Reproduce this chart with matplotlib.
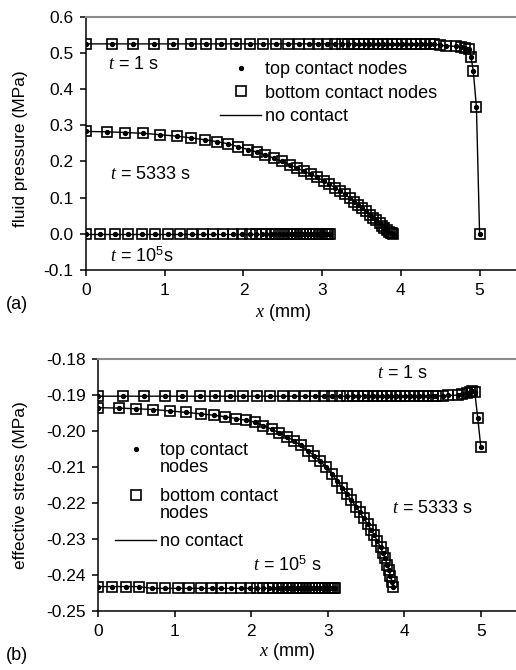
import numpy as np
import matplotlib
matplotlib.use("Agg")
import matplotlib.pyplot as plt
from matplotlib.legend_handler import HandlerLine2D

plt.rcParams['font.family'] = ['Liberation Sans', 'DejaVu Sans']
plt.rcParams['font.size'] = 13
plt.rcParams['mathtext.fontset'] = 'custom'
plt.rcParams['mathtext.rm'] = 'Liberation Sans'
plt.rcParams['mathtext.it'] = 'Liberation Serif:italic'

# node positions along the contact (mm)
x_t1 = [0, 0.33, 0.6, 0.87, 1.1, 1.33, 1.53, 1.72, 1.9, 2.08, 2.25, 2.41, 2.56, 2.7,
        2.83, 2.95, 3.06, 3.16, 3.25, 3.33, 3.4, 3.47, 3.53, 3.59, 3.65, 3.71, 3.77,
        3.83, 3.89, 3.95, 4.01, 4.07, 4.13, 4.19, 4.25, 4.31, 4.37, 4.42,
        4.5, 4.57, 4.7, 4.76, 4.82, 4.86, 4.89, 4.92, 4.96, 5.0]
x_p5333 = [0, 0.27, 0.5, 0.72, 0.94, 1.15, 1.34, 1.51, 1.66, 1.8, 1.93, 2.06, 2.17,
           2.28, 2.39, 2.49, 2.59, 2.68, 2.77, 2.86, 2.94, 3.02, 3.09, 3.16, 3.23,
           3.29, 3.35, 3.41, 3.46, 3.51, 3.56, 3.61, 3.65, 3.69, 3.73, 3.76, 3.79,
           3.82, 3.85, 3.87, 3.89, 3.9]
x_s5333 = [0, 0.27, 0.5, 0.72, 0.94, 1.15, 1.34, 1.51, 1.66, 1.8, 1.93, 2.05, 2.16,
           2.27, 2.37, 2.47, 2.56, 2.65, 2.74, 2.82, 2.9, 2.98, 3.05, 3.12, 3.19,
           3.25, 3.31, 3.37, 3.42, 3.47, 3.52, 3.57, 3.61, 3.65, 3.69, 3.72, 3.75,
           3.78, 3.8, 3.82, 3.84, 3.85]
x_t1e5 = [0, 0.18, 0.37, 0.53, 0.71, 0.88, 1.04, 1.19, 1.35, 1.49, 1.61, 1.74, 1.87,
          1.98, 2.08, 2.16, 2.23, 2.29, 2.35, 2.4, 2.45, 2.5, 2.55, 2.6, 2.64, 2.68,
          2.72, 2.76, 2.8, 2.84, 2.88, 2.92, 2.96, 3.0, 3.03, 3.06, 3.08, 3.1]

# fluid pressure (MPa)
p_t1 = [0.525] * 38 + [0.521, 0.52, 0.518, 0.517, 0.515, 0.51, 0.49, 0.45, 0.35, 0.0]
p_5333 = [0.283, 0.282, 0.280, 0.278, 0.274, 0.270, 0.265, 0.260, 0.255, 0.249,
          0.241, 0.233, 0.226, 0.218, 0.209, 0.200, 0.191, 0.182, 0.173, 0.164,
          0.156, 0.146, 0.137, 0.128, 0.118, 0.109, 0.099, 0.089, 0.080, 0.071,
          0.062, 0.053, 0.045, 0.037, 0.029, 0.023, 0.017, 0.011, 0.006, 0.003,
          0.001, 0.0]
p_t1e5 = [0.0] * 38

# effective stress (MPa)
s_t1 = [-0.1903] * 38 + [-0.1902, -0.1901, -0.19, -0.1898, -0.1895, -0.189,
                         -0.1888, -0.189, -0.1964, -0.2044]
s_5333 = [-0.1935, -0.1936, -0.1938, -0.1940, -0.1944, -0.1948, -0.1952, -0.1956,
          -0.1960, -0.1965, -0.1970, -0.1975, -0.1985, -0.1995, -0.2005, -0.2016,
          -0.2027, -0.2040, -0.2054, -0.2068, -0.2083, -0.2100, -0.2118, -0.2138,
          -0.2158, -0.2175, -0.2192, -0.2210, -0.2226, -0.2242, -0.2258, -0.2275,
          -0.2290, -0.2306, -0.2323, -0.2338, -0.2354, -0.2372, -0.2386, -0.2402,
          -0.2420, -0.2433]
s_t1e5 = [-0.2432] * 4 + [-0.2437] * 34


class LiftedHandler(HandlerLine2D):
    # puts the legend symbol on the first line of a two-line label
    def __init__(self, dy, **kw):
        super().__init__(**kw)
        self.dy = dy

    def create_artists(self, *args, **kw):
        arts = super().create_artists(*args, **kw)
        for a in arts:
            a.set_ydata(np.asarray(a.get_ydata()) + self.dy)
        return arts


fig = plt.figure(figsize=(5.16, 6.70), dpi=100)
ax1 = fig.add_axes([0.1667, 0.597, 0.839, 0.378])
ax2 = fig.add_axes([0.19, 0.088, 0.816, 0.376])


def draw(ax, x, y):
    l, = ax.plot(x, y, '-', color='black', lw=1.0, zorder=2)
    sq, = ax.plot(x, y, 's', ms=7.5, mfc='none', mec='black', mew=1.2, zorder=3)
    dot, = ax.plot(x, y, 'o', ms=2.8, color='black', zorder=4)
    return dot, sq, l


def style(ax):
    ax.set_xlim(0, 5.5)
    ax.set_xticks([0, 1, 2, 3, 4, 5])
    ax.spines['right'].set_visible(False)
    ax.spines['top'].set_color('#8c8c8c')
    ax.spines['top'].set_linewidth(1.5)
    ax.spines['left'].set_linewidth(1.1)
    ax.spines['bottom'].set_linewidth(1.1)
    ax.tick_params(direction='out', length=4, width=1.1, top=False, right=False,
                   labelsize=12.5, pad=5)


# (a) fluid pressure
h = draw(ax1, x_t1, p_t1)
draw(ax1, x_p5333, p_5333)
draw(ax1, x_t1e5, p_t1e5)
style(ax1)
ax1.set_ylim(-0.1, 0.6)
ax1.set_yticks([-0.1, 0, 0.1, 0.2, 0.3, 0.4, 0.5, 0.6])
ax1.set_yticklabels(['-0.1', '0.0', '0.1', '0.2', '0.3', '0.4', '0.5', '0.6'])
ax1.set_ylabel('fluid pressure (MPa)', fontsize=12.5)
ax1.yaxis.set_label_coords(-0.134, 0.48)
ax1.set_xlabel('$x$ (mm)')
ax1.xaxis.set_label_coords(0.4545, -0.125)
ax1.text(0.28, 0.468, '$t$ = 1 s', va='center')
ax1.text(0.3, 0.165, '$t$ = 5333 s', va='center')
ax1.text(0.3, -0.063, '$t$ = 10$^5$s', va='center')
ax1.legend(h, ['top contact nodes', 'bottom contact nodes', 'no contact'],
           loc='upper left', bbox_to_anchor=(0.309, 0.825), frameon=False,
           borderpad=0, borderaxespad=0, handlelength=2.3, handletextpad=0.2,
           labelspacing=0.37, fontsize=13)

# (b) effective stress
h = draw(ax2, x_t1, s_t1)
draw(ax2, x_s5333, s_5333)
draw(ax2, x_t1e5, s_t1e5)
style(ax2)
ax2.set_ylim(-0.25, -0.18)
ax2.set_yticks([-0.25, -0.24, -0.23, -0.22, -0.21, -0.2, -0.19, -0.18])
ax2.set_yticklabels(['-0.25', '-0.24', '-0.23', '-0.22', '-0.21', '-0.20', '-0.19', '-0.18'])
ax2.set_ylabel('effective stress (MPa)', fontsize=12.5)
ax2.yaxis.set_label_coords(-0.166, 0.5)
ax2.set_xlabel('$x$ (mm)')
ax2.xaxis.set_label_coords(0.45, -0.118)
ax2.text(3.64, -0.1839, '$t$ = 1 s', va='center')
ax2.text(3.84, -0.2214, '$t$ = 5333 s', va='center')
ax2.text(2.02, -0.2372, '$t$ = 10$^5$ s', va='center')
lift = LiftedHandler(7.0)
leg = ax2.legend(h, ['top contact\nnodes', 'bottom contact\nnodes', 'no contact'],
                 loc='upper left', bbox_to_anchor=(0.04, 0.671), frameon=False,
                 borderpad=0, borderaxespad=0, handlelength=2.3, handletextpad=0.2,
                 labelspacing=0.65, fontsize=13,
                 handler_map={h[0]: lift, h[1]: lift})
for t in leg.get_texts():
    t.set_linespacing(1.0)

fig.text(0.012, 0.545, '(a)', va='center', fontsize=13)
fig.text(0.012, 0.022, '(b)', va='center', fontsize=13)

fig.savefig('out.png', dpi=100)
